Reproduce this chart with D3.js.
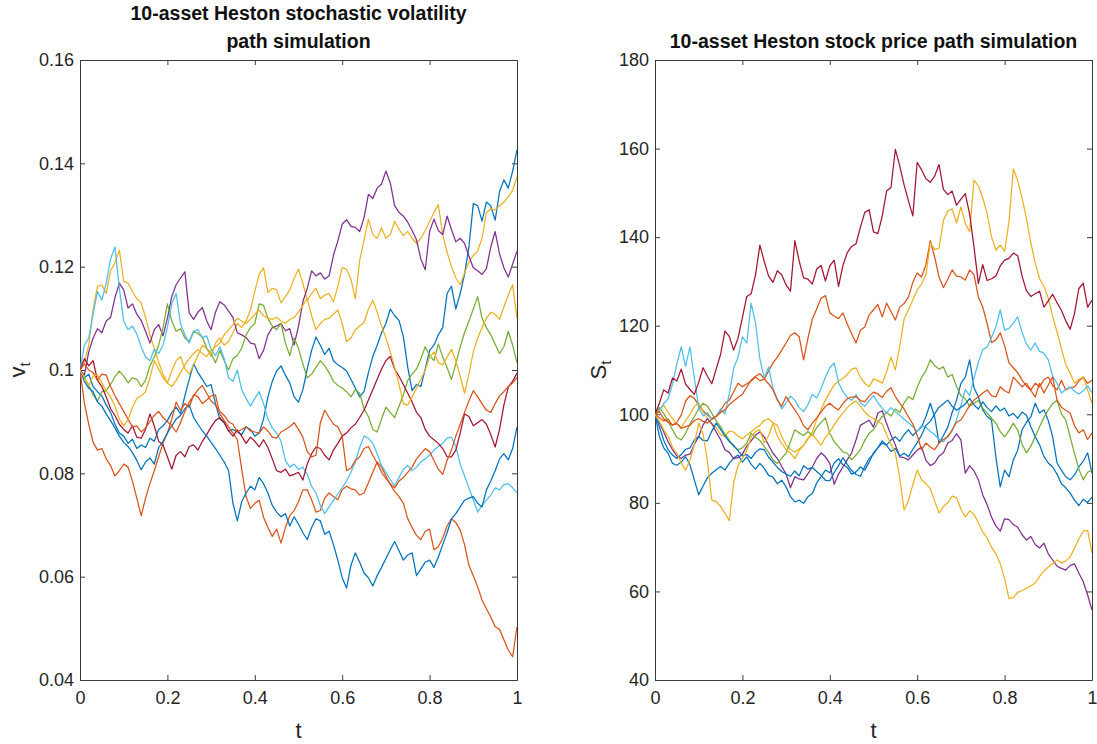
<!DOCTYPE html>
<html>
<head>
<meta charset="utf-8">
<script src="https://cdn.jsdelivr.net/npm/d3@7"></script>
<style>
  body { margin: 0; background: #ffffff; }
  svg text { font-family: "Liberation Sans", Arial, Helvetica, sans-serif; }
</style>
</head>
<body>
<svg id="chart" width="1097" height="744"></svg>
<script>
// Simulation time grid (101 steps on [0, 1])
const tGrid = d3.range(101).map(i => i / 100);

// ---- Variance paths v_t (10 assets) ----
const volBlue = [0.1,0.0985,0.0992,0.0968,0.0958,0.095,0.0932,0.0918,0.0895,0.0878,
0.0872,0.0858,0.0866,0.0848,0.0855,0.085,0.0868,0.0862,0.0885,0.0892,
0.0902,0.0918,0.0928,0.0915,0.095,0.0982,0.1012,0.0995,0.0982,0.0968,
0.0972,0.0935,0.0905,0.0898,0.0882,0.0885,0.088,0.0875,0.089,0.0885,
0.0872,0.0878,0.0905,0.0948,0.0978,0.0998,0.1008,0.099,0.0975,0.0948,
0.0938,0.0962,0.1002,0.1038,0.1064,0.1048,0.103,0.1042,0.1018,0.101,
0.1005,0.0998,0.0982,0.0965,0.0948,0.0958,0.0995,0.1026,0.1048,0.1072,
0.109,0.1118,0.1105,0.1096,0.1064,0.1005,0.096,0.0972,0.0968,0.1002,
0.1038,0.1048,0.1068,0.1082,0.1148,0.1162,0.1118,0.1148,0.1185,0.1238,
0.1322,0.1318,0.1288,0.1325,0.1318,0.129,0.1345,0.1368,0.1352,0.1385,
0.1426];
const volOrange = [0.1,0.0936,0.0895,0.086,0.0845,0.0848,0.0828,0.0815,0.0795,0.0805,
0.0818,0.0812,0.0785,0.0752,0.0718,0.0752,0.078,0.0805,0.0832,0.0858,
0.0878,0.0905,0.0938,0.0922,0.0935,0.0928,0.0952,0.0948,0.0935,0.0942,
0.095,0.0952,0.0915,0.0902,0.089,0.0878,0.0865,0.0808,0.0755,0.0732,
0.0742,0.0748,0.0715,0.0695,0.0678,0.0692,0.0665,0.0695,0.0718,0.0728,
0.0745,0.0768,0.0768,0.0749,0.0725,0.0728,0.0752,0.0762,0.0755,0.0749,
0.0768,0.0775,0.077,0.0768,0.0758,0.0762,0.0782,0.0802,0.0822,0.0812,
0.0795,0.0778,0.0765,0.0755,0.0742,0.0712,0.0695,0.068,0.0672,0.0688,
0.0692,0.0652,0.0658,0.0675,0.0698,0.0712,0.0705,0.069,0.0662,0.0622,
0.0602,0.058,0.0555,0.0538,0.0522,0.0503,0.0498,0.0478,0.0458,0.0445,
0.0503];
const volYellow = [0.1,0.1015,0.1048,0.1118,0.1162,0.1165,0.1148,0.1192,0.1207,0.1232,
0.1172,0.1168,0.1152,0.1138,0.113,0.1102,0.1068,0.1042,0.1015,0.0992,
0.0975,0.0998,0.1018,0.1026,0.1002,0.0992,0.101,0.1028,0.1048,0.1042,
0.1026,0.1052,0.1062,0.1048,0.1055,0.1072,0.109,0.1082,0.1095,0.1116,
0.1152,0.1185,0.1198,0.115,0.1158,0.1155,0.113,0.1142,0.1155,0.1178,
0.1195,0.1168,0.1135,0.1148,0.1158,0.1138,0.1145,0.1148,0.1132,0.1162,
0.1198,0.1195,0.1176,0.1138,0.1212,0.1252,0.1292,0.1262,0.1255,0.1275,
0.1255,0.1262,0.1288,0.1272,0.126,0.1268,0.1255,0.1245,0.1255,0.127,
0.1288,0.1305,0.132,0.1262,0.1228,0.12,0.1178,0.1165,0.1188,0.1208,
0.1222,0.123,0.1255,0.1305,0.1312,0.131,0.1318,0.1325,0.1335,0.1348,
0.1374];
const volPurple = [0.1,0.099,0.1035,0.1062,0.108,0.1072,0.1095,0.1102,0.114,0.1168,
0.1155,0.112,0.1128,0.1108,0.1096,0.1075,0.1052,0.1078,0.1088,0.1066,
0.11,0.1142,0.1165,0.1178,0.119,0.111,0.1098,0.1112,0.1121,0.1095,
0.1078,0.1112,0.1132,0.1126,0.1114,0.1102,0.1072,0.1068,0.1063,0.1052,
0.105,0.1022,0.1038,0.1068,0.1082,0.1085,0.109,0.1076,0.108,0.1048,
0.1085,0.1132,0.1158,0.1192,0.1182,0.1188,0.1176,0.1182,0.1222,0.125,
0.1282,0.1291,0.1278,0.1276,0.1268,0.1295,0.134,0.1332,0.1352,0.136,
0.1385,0.1362,0.1318,0.1305,0.1298,0.1286,0.127,0.1252,0.1215,0.1194,
0.1268,0.1292,0.127,0.1262,0.1298,0.1272,0.1248,0.1255,0.1245,0.122,
0.1198,0.1192,0.1185,0.1196,0.1238,0.1268,0.1225,0.1198,0.118,0.1205,
0.123];
const volGreen = [0.1,0.0985,0.097,0.0952,0.094,0.0958,0.096,0.0972,0.0987,0.0998,
0.0988,0.0975,0.0985,0.0982,0.0968,0.098,0.1008,0.1025,0.1048,0.1082,
0.1128,0.1095,0.1075,0.108,0.1062,0.1055,0.1075,0.107,0.1064,0.1042,
0.1032,0.1014,0.1038,0.1018,0.1,0.1022,0.1028,0.1042,0.1068,0.1082,
0.109,0.1128,0.1125,0.11,0.1085,0.1078,0.109,0.1052,0.1028,0.1062,
0.1042,0.1012,0.0985,0.0992,0.1005,0.1018,0.1008,0.0995,0.0978,0.097,
0.0965,0.0958,0.0948,0.0962,0.0955,0.0925,0.091,0.0885,0.088,0.0905,
0.0928,0.0918,0.0908,0.093,0.0952,0.098,0.0992,0.1002,0.1022,0.1045,
0.1028,0.1018,0.105,0.1025,0.1005,0.0982,0.1012,0.1045,0.1072,0.1095,
0.1118,0.1142,0.11,0.1082,0.1068,0.105,0.1032,0.1045,0.1075,0.1048,
0.1014];
const volCyan = [0.1,0.1048,0.1062,0.1108,0.1152,0.1135,0.1168,0.1215,0.1238,0.1158,
0.1095,0.1078,0.1085,0.107,0.1045,0.1025,0.1018,0.104,0.1032,0.1048,
0.1082,0.1128,0.1148,0.109,0.1068,0.1052,0.1075,0.1078,0.1062,0.1066,
0.104,0.1028,0.1045,0.1022,0.0985,0.0978,0.1,0.0962,0.0945,0.093,
0.0945,0.0958,0.0935,0.0905,0.0888,0.0878,0.0862,0.0825,0.0812,0.0818,
0.0807,0.0812,0.0798,0.0775,0.0762,0.0738,0.0722,0.0735,0.0748,0.076,
0.0772,0.0785,0.0802,0.0822,0.085,0.0872,0.0868,0.0858,0.0838,0.0815,
0.0802,0.0788,0.0776,0.0792,0.0808,0.0815,0.0805,0.0812,0.0822,0.0828,
0.0835,0.0845,0.0852,0.0858,0.0868,0.087,0.0852,0.0818,0.0795,0.0772,
0.0748,0.0725,0.0738,0.0748,0.0758,0.0772,0.0768,0.0778,0.078,0.0772,
0.0762];
const volCrimson = [0.1,0.1022,0.1008,0.1018,0.098,0.0968,0.0948,0.0925,0.0912,0.0895,
0.0885,0.0878,0.0892,0.087,0.0868,0.0885,0.0915,0.0892,0.0862,0.0855,
0.0832,0.0808,0.0835,0.0842,0.0832,0.0852,0.0855,0.0845,0.0862,0.0875,
0.089,0.0902,0.0908,0.0898,0.0882,0.0872,0.0884,0.0872,0.0858,0.087,
0.0862,0.0851,0.0865,0.085,0.0828,0.0805,0.0802,0.0808,0.0795,0.0798,
0.0802,0.0787,0.0818,0.0838,0.0851,0.0848,0.0835,0.0826,0.0845,0.0858,
0.0872,0.0878,0.0888,0.0895,0.0908,0.0922,0.0942,0.0962,0.0982,0.1002,
0.1018,0.1026,0.1002,0.0988,0.0972,0.0955,0.0938,0.0918,0.0908,0.0885,
0.0872,0.0865,0.0858,0.0848,0.0832,0.0832,0.0845,0.0878,0.0915,0.091,
0.0892,0.0898,0.0904,0.0895,0.0875,0.0851,0.0885,0.0932,0.0967,0.0978,
0.0994];
const volBlue2 = [0.1,0.0978,0.0965,0.0958,0.0938,0.093,0.0915,0.0902,0.0888,0.0872,
0.086,0.0852,0.084,0.0825,0.0807,0.0822,0.083,0.0818,0.085,0.0862,
0.0878,0.0892,0.0905,0.0912,0.0925,0.0932,0.0908,0.0895,0.0882,0.0872,
0.086,0.0848,0.0835,0.0822,0.0805,0.0742,0.0708,0.0745,0.0762,0.0775,
0.0768,0.0792,0.078,0.0762,0.0738,0.0725,0.0716,0.0722,0.0698,0.0716,
0.0702,0.0685,0.0672,0.0695,0.0712,0.0708,0.0682,0.0688,0.0662,0.0632,
0.0598,0.0578,0.0622,0.0646,0.0628,0.0607,0.0598,0.0582,0.0602,0.0618,
0.0635,0.0652,0.0668,0.065,0.0632,0.0642,0.0646,0.0602,0.0615,0.0628,
0.0632,0.0618,0.0638,0.0662,0.0685,0.0712,0.0722,0.0735,0.0748,0.0752,
0.0755,0.0742,0.0735,0.0768,0.0785,0.0805,0.0828,0.0838,0.0826,0.0848,
0.089];
const volOrange2 = [0.1,0.1012,0.1,0.0995,0.098,0.0992,0.099,0.0968,0.095,0.0935,
0.092,0.0905,0.089,0.0892,0.088,0.0888,0.09,0.0912,0.092,0.0908,
0.09,0.0892,0.088,0.0898,0.092,0.0938,0.095,0.0962,0.097,0.0955,
0.094,0.0932,0.092,0.0912,0.09,0.0895,0.088,0.0885,0.089,0.0882,
0.088,0.0878,0.089,0.0882,0.087,0.0868,0.088,0.0885,0.089,0.0898,
0.0885,0.087,0.0842,0.0832,0.0835,0.0898,0.0922,0.0908,0.0895,0.089,
0.0872,0.0805,0.081,0.0825,0.0832,0.0848,0.0852,0.0835,0.082,0.0802,
0.079,0.078,0.0772,0.0785,0.0792,0.0802,0.0812,0.0828,0.0838,0.0848,
0.0842,0.0825,0.0808,0.0798,0.0825,0.0845,0.0872,0.0895,0.0918,0.094,
0.096,0.0948,0.0935,0.0922,0.0918,0.0935,0.095,0.0958,0.0968,0.0975,
0.0985];
const volYellow2 = [0.1,0.0985,0.097,0.0988,0.099,0.0975,0.096,0.0948,0.093,0.0905,
0.0892,0.0904,0.0928,0.0945,0.095,0.0958,0.0985,0.1018,0.1002,0.0985,
0.0975,0.0968,0.098,0.0995,0.101,0.1022,0.1032,0.104,0.1032,0.1026,
0.1038,0.1045,0.1052,0.1068,0.1078,0.1088,0.11,0.1095,0.109,0.1098,
0.1108,0.1116,0.1105,0.11,0.1098,0.1102,0.1095,0.109,0.1098,0.1102,
0.1112,0.1125,0.1138,0.1105,0.1078,0.109,0.1098,0.11,0.1108,0.1116,
0.109,0.1055,0.1062,0.1078,0.1085,0.1092,0.1118,0.1135,0.1112,0.1085,
0.1062,0.1035,0.1005,0.0972,0.0935,0.0932,0.0948,0.0965,0.0982,0.1,
0.1025,0.1035,0.1014,0.101,0.1025,0.104,0.1018,0.0988,0.0955,0.0992,
0.1035,0.1062,0.1082,0.11,0.1112,0.1108,0.1098,0.1122,0.1145,0.1165,
0.11];

// ---- Stock price paths S_t (10 assets) ----
const priceBlue = [100,95,92.4,91.2,88.9,88.5,89.2,90.4,88.6,85.2,
81.8,83.8,85.7,86.7,87.5,88.2,87.4,88.9,90.1,90.8,
89.2,90.4,88.7,87.6,88.9,87.8,86.2,85.8,84.3,85.1,
83.6,81.4,80.2,80.6,79.9,81.4,82.1,84.5,85.9,87.4,
86.8,89,90,88.6,88,86.5,87,88.1,87.4,89.2,
91.3,92.4,93.5,93.1,94.2,94.9,93.9,95.4,96.5,95.2,
96.2,97.1,99.5,102.5,99.4,93.5,95.2,97.1,100.4,103.2,
107,108.4,112.3,106,103.9,101,99.5,98.7,90.4,83.6,
87.4,85.9,89.7,91.9,96.5,98.2,99.4,102.5,100.3,101,
98.6,94.9,89,87.4,85.9,85.2,86.3,88.1,89.4,91.3,
86.7];
const priceOrange = [100,99.2,98.5,98.9,97.5,98.2,99.8,103,104.2,103.6,
102,100.8,99.9,99,99.6,100.8,102.5,103.2,105.1,107,
106.2,106.9,107.5,108.4,107.6,107.9,109.8,111.6,112.9,114.5,
116.1,117.8,118.4,117.5,112.3,117.2,121.5,123.8,126.2,126.8,
122.9,122.2,121.6,122.9,120.4,118.2,116.1,119,119.7,122.4,
123.6,124.8,122,125.1,123.2,121.3,124.2,125,126.5,129.8,
131.9,131,133.8,139.2,135.5,131,128.6,130.5,132.6,131.2,
131,130.3,132.6,131.5,126.5,124.2,120.5,116.2,116.8,118.4,
115.5,111.6,110.5,109.4,107.7,106.4,105.5,107,106.2,107.8,
108.4,106.5,105.5,107.7,105.5,106,106.2,107.5,108.4,107,
107.7];
const priceYellow = [100,101.2,102,100.4,99,97.8,97,98.6,100,101.8,
102.5,100.5,99,97.8,97,95.4,95,96.2,96,95.1,
94.5,95.3,96,96.9,97.5,98.6,99,98.1,97.5,95,
93,92.1,91.5,92.2,93,94.6,96,98.8,101,103.2,
105,106.6,107.5,108.1,109,110.2,110.5,108.4,107,106.2,
108,107.6,107,109.6,112.9,110,115.4,121.5,123.6,125.8,
128.1,129.4,131.5,138.7,137.2,137.5,143.8,145.9,146.4,143.2,
146.8,143.1,141.2,152.9,151.6,148.9,145.3,140.1,137.1,138.2,
136.8,143.5,155.4,152.8,148.8,144.2,138.7,134.2,130.6,128.9,
126.2,122.1,118.6,114.8,111.2,109.3,107,107.9,108.4,105.5,
102.5];
const pricePurple = [100,98.1,96,93.8,92,90.6,90,90.8,91,93.2,
95,97.6,99,97.9,96,94.3,92,91.4,90,90.2,
91,92.8,94,95.3,96,94.9,93,91.2,90,88.2,
86.5,83.4,85.9,85.4,85.2,86.6,88.1,90,91.3,90.4,
88.9,84.2,86.5,88.1,89.7,91.3,94.2,97.5,98.1,98.7,
97.1,100.3,100.8,97.9,95.3,93.1,90.4,90.2,89.7,90.8,
91.9,92.6,89.6,88.4,89,90.6,91.3,93.5,94.1,95.6,
94.2,86.7,88.4,87.2,85.2,81.8,79.6,76.8,74.8,73.6,
76.4,76.2,75.1,74.5,72.8,71.6,72.4,70.6,69.8,70.9,
68.5,67.1,65.7,65.2,64.8,65.9,66.2,64.1,62.2,59.2,
55.8];
const priceGreen = [100,101.5,100.2,98.4,96.5,94.8,94.2,95.7,97.8,99.5,
101.2,102.5,101.8,100.2,98.5,97.2,95.5,94.2,92.7,92,
92.4,93.5,95.7,94.8,94.1,92.7,91.4,89.7,88.9,90.1,
91.2,93.8,96.5,95.8,95.2,96.1,95.2,97,98.1,99.2,
95.7,93.8,92.7,91.5,91.2,89.7,90.8,92,94.1,95.7,
96.5,98.2,99.5,100.4,99.6,101.2,100.4,102.6,104,103.3,
106.1,108.3,109.8,112.3,111,110.2,110.7,108.4,109,106.3,
104.2,103.5,101.8,102.5,103.1,101.4,100.3,99.1,98,96.1,
94.9,96.3,98,96.4,93.2,91.3,92.8,94.9,97.2,99.3,
101,102.4,103.2,100.1,98.7,94.9,91.1,87.6,85.2,86.9,
87.4];
const priceCyan = [100,100.8,102.4,103.5,106.8,111.4,115.2,110.8,115.2,108.2,
101.5,99.6,100.4,98.8,99.5,101.2,100.1,104.6,110.4,112.9,
117.5,116.1,125.1,120.6,112.5,108.2,110.7,105.8,103.4,101.2,
102.6,104.1,103.2,101.5,100.6,102.2,104.5,103.7,105.8,108.4,
110.5,111.6,107.2,105.1,103.8,103.2,104.4,102.6,101.8,103.1,
104.2,102.6,101.4,100.3,101.5,100.6,99.8,98.9,98.1,97.2,
96.1,97.5,97,96.1,95.4,94.3,93.8,95.1,96.2,98.8,
102,105.6,104.2,108.1,111.8,114.6,115.2,117.4,119.7,123.6,
119,119.4,120.6,122,118.5,115.9,114.5,116.1,114.2,113.8,
112.3,108.6,107,104.8,105.6,106.2,105.2,104.6,105.3,106.4,
104.9];
const priceCrimson = [100,102.5,105.5,104.8,108.2,107.5,110.2,106.8,105.6,104.5,
107.2,110.5,108.6,106.9,110.2,113.5,118.8,117.6,114.5,117.2,
121.8,126.6,127.2,131.5,138.2,134.5,131.2,129.8,132.4,131.5,
129.2,127.8,139.2,134.6,130.8,130.5,129.4,132.8,133.6,130.1,
133.5,134.8,128.9,133.6,136.5,137.9,138.5,142.2,145.6,146.2,
141.2,140.8,144.8,150.4,151.2,159.8,156.1,151.8,148.2,144.8,
156.9,155.2,153.2,152.4,153.8,156.4,150.8,149.6,150.4,147.2,
148.6,149.8,145.2,137.8,129.5,133.8,130.2,130.6,131.2,133.5,
134.8,135.2,136.4,135.8,131.2,127.9,126.6,127.2,127.8,124.2,
125.6,127.1,125.2,123.5,121.1,119.2,122.8,128.4,129.6,124.2,
125.8];
const priceBlue2 = [100,97.2,94.1,92,90.8,90,90.9,92.1,92.4,94.2,
95,94.1,94,96.2,98,96.6,95.1,93.8,93,91.8,
90.6,90.9,90,91.4,92.2,92,90.3,89.2,88,87.1,
86.5,86,87.2,86.1,88.4,87.6,88,87.1,86.2,85.1,
85,86.8,88.4,90.2,88.7,87.3,86.4,86,88.2,90,
91,92.5,94,93,91.6,92.3,90.6,91.2,90.4,92.1,
93.6,95.3,97.5,98.4,100.1,101.6,102.4,103.2,101.8,100.9,
101.6,102.3,103.6,102.1,101.2,102.8,101.5,100.6,101.9,100.8,
101.4,99.6,100.2,99.1,100.5,99.8,97.2,95,93.1,90.5,
89,88.1,86.5,84.3,83.4,82.2,80.6,79.4,80.8,80.1,
81.3];
const priceOrange2 = [100,100.6,99,98.2,97.6,97.9,96.8,97.2,97.5,98.6,
99,98.4,98,98.9,99.5,100.4,101,102.2,103,103.8,
104.5,106.1,107.7,108.6,109.2,108,106.9,105.5,103.2,101.8,
104,102.4,101,99.5,97.4,96.5,98,99.2,100.5,101.8,
102.5,101.6,101,102.4,103.5,103.9,104,103.1,102.8,104.1,
105,104.6,103.8,105.2,106,104,102.5,101.2,99.4,97.8,
95.2,92,93.5,92.6,92,93.5,94.3,94.9,96.5,98.2,
98.7,100.3,102,103.2,103.9,104.8,105.5,104.2,103.9,106.2,
105.3,104.8,108.4,107.3,106.2,107,105.4,103.9,107,104.8,
106.6,108.4,103.2,101.6,100.9,100.3,97.4,95.8,96.5,94.3,
95.8];
const priceYellow2 = [100,98.4,96.5,95.1,92.6,91.2,89,87.4,89.6,93.2,
98,95.6,89.4,80.6,80.3,79.2,77.7,76,84.6,88.4,
90,91.8,94.9,96.1,96.5,93.5,95.2,98,95.1,93.4,
92,91.2,90,91.8,93,94.4,95.5,94.2,93,94.8,
96,97.6,99,100.3,101.5,102.4,103,101.9,100.5,99.6,
99,98.4,97.8,95.4,93.2,91.3,85.6,78.4,80.5,84.1,
87.4,85.2,84.3,83.2,80.4,77.7,79.2,80,81.5,81.2,
78.6,76.8,78.2,77.4,75.5,73.4,72.1,70,68.5,66.3,
62.9,58.4,58.6,59.8,60.2,60.7,61.3,61.9,63.4,64.6,
65.5,66.3,67.1,66.4,66.9,67.8,69.8,71.9,73.6,73.8,
68.7];

// Axis ticks and labels
const xTicks = [0, 0.2, 0.4, 0.6, 0.8, 1];
const xTickLabels = ["0", "0.2", "0.4", "0.6", "0.8", "1"];
const volTicks = [0.04, 0.06, 0.08, 0.1, 0.12, 0.14, 0.16];
const volTickLabels = ["0.04", "0.06", "0.08", "0.1", "0.12", "0.14", "0.16"];
const priceTicks = [40, 60, 80, 100, 120, 140, 160, 180];
const priceTickLabels = ["40", "60", "80", "100", "120", "140", "160", "180"];

// MATLAB default line colour order
const lineColors = ["#0072BD", "#D95319", "#EDB120", "#7E2F8E", "#77AC30",
                    "#4DBEEE", "#A2142F", "#0072BD", "#D95319", "#EDB120"];

const volSeries = [volBlue, volOrange, volYellow, volPurple, volGreen,
                   volCyan, volCrimson, volBlue2, volOrange2, volYellow2];
const priceSeries = [priceBlue, priceOrange, priceYellow, pricePurple, priceGreen,
                     priceCyan, priceCrimson, priceBlue2, priceOrange2, priceYellow2];

const svg = d3.select("#chart");
const axisColor = "#262626";
const tickFont = 18;

function drawPanel(cfg) {
  const x = d3.scaleLinear().domain([0, 1]).range([cfg.left, cfg.right]);
  const y = d3.scaleLinear().domain(cfg.yDomain).range([cfg.bottom, cfg.top]);
  const g = svg.append("g");

  g.append("clipPath").attr("id", cfg.id + "-clip")
    .append("rect")
    .attr("x", cfg.left).attr("y", cfg.top)
    .attr("width", cfg.right - cfg.left).attr("height", cfg.bottom - cfg.top);

  const styleAxis = sel => {
    sel.attr("font-size", tickFont)
       .attr("font-family", '"Liberation Sans", Arial, Helvetica, sans-serif')
       .style("color", axisColor);
    sel.select(".domain").attr("stroke-width", 1).attr("stroke", "#3a3a3a");
    sel.selectAll(".tick line").attr("stroke-width", 1).attr("stroke", "#3a3a3a");
  };

  g.append("g").attr("transform", `translate(0,${cfg.bottom})`)
    .call(d3.axisBottom(x).tickValues(xTicks).tickFormat((d, i) => xTickLabels[i])
      .tickSizeInner(-5).tickSizeOuter(0).tickPadding(11))
    .call(styleAxis);
  g.append("g").attr("transform", `translate(0,${cfg.top})`)
    .call(d3.axisTop(x).tickValues(xTicks).tickFormat("")
      .tickSizeInner(-5).tickSizeOuter(0))
    .call(styleAxis);
  g.append("g").attr("transform", `translate(${cfg.left},0)`)
    .call(d3.axisLeft(y).tickValues(cfg.yTicks).tickFormat((d, i) => cfg.yTickLabels[i])
      .tickSizeInner(-5).tickSizeOuter(0).tickPadding(6))
    .call(styleAxis);
  g.append("g").attr("transform", `translate(${cfg.right},0)`)
    .call(d3.axisRight(y).tickValues(cfg.yTicks).tickFormat("")
      .tickSizeInner(-5).tickSizeOuter(0))
    .call(styleAxis);

  const line = d3.line().x((d, i) => x(tGrid[i])).y(d => y(d));
  const paths = g.append("g").attr("clip-path", `url(#${cfg.id}-clip)`);
  cfg.series.forEach((s, k) => {
    paths.append("path")
      .attr("d", line(s))
      .attr("fill", "none")
      .attr("stroke", lineColors[k])
      .attr("stroke-width", 1.25)
      .attr("stroke-linejoin", "round");
  });

  // Title (one or more lines)
  const cx = (cfg.left + cfg.right) / 2;
  cfg.title.forEach((txt, i) => {
    g.append("text")
      .attr("x", cx).attr("y", cfg.titleY[i])
      .attr("text-anchor", "middle")
      .attr("font-size", 19.5).attr("font-weight", "bold")
      .attr("fill", "#111111")
      .text(txt);
  });

  // x-axis label
  g.append("text")
    .attr("x", cx).attr("y", 738)
    .attr("text-anchor", "middle")
    .attr("font-size", 22).attr("fill", axisColor)
    .text("t");

  // y-axis label with subscript t
  const yl = g.append("text")
    .attr("transform", `translate(${cfg.yLabelX},${(cfg.top + cfg.bottom) / 2}) rotate(-90)`)
    .attr("text-anchor", "middle")
    .attr("font-size", 22).attr("fill", axisColor);
  yl.append("tspan").text(cfg.yLabel);
  yl.append("tspan").attr("font-size", 15).attr("dy", 5).text("t");
}

drawPanel({
  id: "vol",
  left: 80, right: 517, top: 60, bottom: 680,
  yDomain: [0.04, 0.16],
  yTicks: volTicks, yTickLabels: volTickLabels,
  series: volSeries,
  title: ["10-asset Heston stochastic volatility", "path simulation"],
  titleY: [20, 48],
  yLabel: "v", yLabelX: 25
});

drawPanel({
  id: "price",
  left: 655, right: 1092, top: 60, bottom: 680,
  yDomain: [40, 180],
  yTicks: priceTicks, yTickLabels: priceTickLabels,
  series: priceSeries,
  title: ["10-asset Heston stock price path simulation"],
  titleY: [48],
  yLabel: "S", yLabelX: 606
});
</script>
</body>
</html>
